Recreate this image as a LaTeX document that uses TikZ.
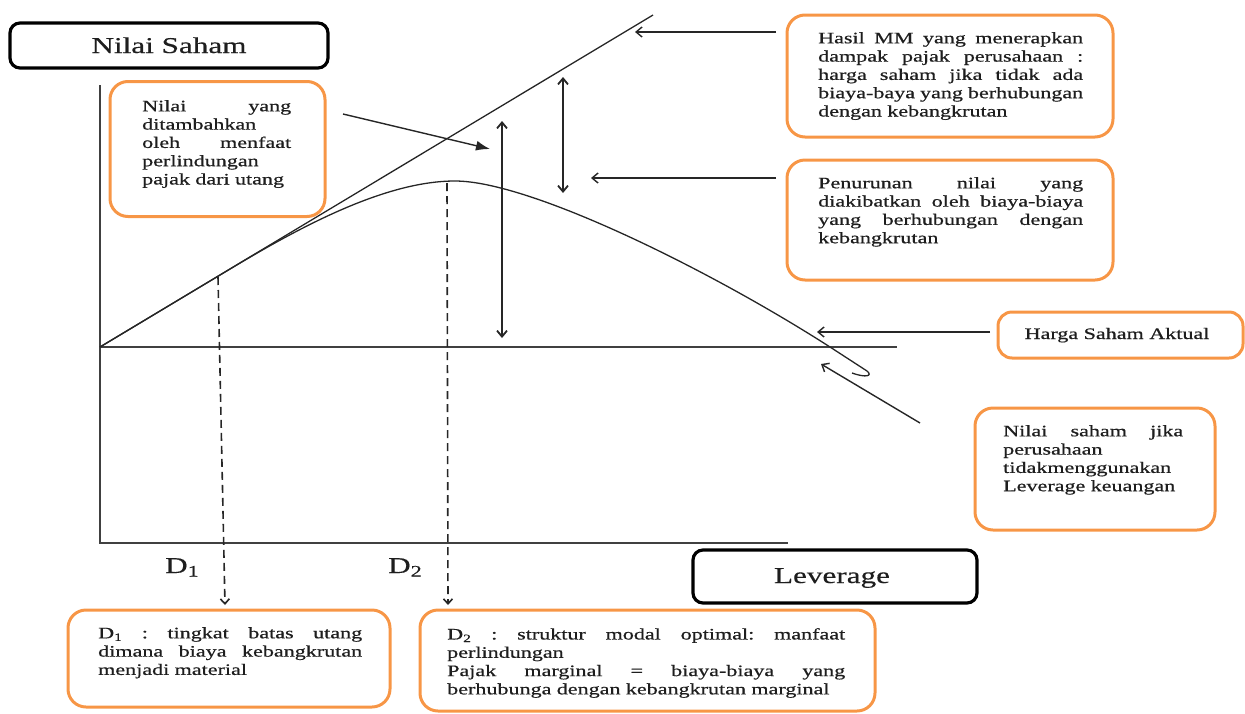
\documentclass[tikz,border=0pt]{standalone}
\usepackage{fontspec}
\setmainfont{Liberation Serif}
\newfontfamily\tnr[FakeStretch=1.38,FakeBold=0.6]{Liberation Serif}
\newfontfamily\tnrbig[FakeStretch=1.38,FakeBold=0.4]{Liberation Serif}
\usetikzlibrary{arrows.meta}
\newcommand{\jl}[2]{\leavevmode\hbox to #1{#2}}
\definecolor{boxorange}{HTML}{F79646}
\definecolor{ink}{HTML}{1E1E1E}
\tikzset{
  obox/.style={draw=boxorange, line width=3pt, rounded corners=18pt},
  kbox/.style={draw=black, line width=3.2pt, rounded corners=10pt},
  smalltext/.style={inner sep=0pt, anchor=north west, align=left, text=ink,
    font={\tnr\fontsize{16}{18.3}\selectfont\parindent=0pt}},
  bigtext/.style={inner sep=0pt, anchor=base, text=ink,
    font={\tnrbig\fontsize{22.6}{26}\selectfont}},
  axisline/.style={draw=black!75, line width=2pt},
  thinline/.style={draw=black!85, line width=1.3pt},
  barb/.style={-{Straight Barb[length=6pt,width=10pt]}, draw=black!85, line width=1.4pt},
  dbarb/.style={{Straight Barb[length=6pt,width=10pt]}-{Straight Barb[length=6pt,width=10pt]}, draw=black!85, line width=1.8pt},
  dasharrow/.style={-{Straight Barb[length=5pt,width=9pt]}, draw=black!85, line width=1.6pt, dash pattern=on 8pt off 5pt},
  fillarrow/.style={-{Latex[length=14pt,width=10pt]}, draw=black!85, line width=1.4pt}
}
\begin{document}
\begin{tikzpicture}[x=1pt,y=-1pt]
\useasboundingbox (0,0) rectangle (1245,713);

% axes
\coordinate (ytop) at (100,85);
\coordinate (origin) at (100,543);
\coordinate (xend) at (788,543);
\coordinate (h0) at (100,347);
\coordinate (hend) at (897,347);
\coordinate (ltop) at (653,15);
\draw[axisline] (ytop) -- (origin) -- (xend);
\draw[axisline, line width=1.8pt] (h0) -- (hend);
\draw[thinline] (h0) -- (ltop);

% curve
\coordinate (cend) at (867,371);
\draw[thinline] (h0) -- (230,269) .. controls (300,227) and (385,181) .. (455,181)
  .. controls (530,181) and (710,270) .. (830,347) -- (cend);
\draw[thinline] (cend) .. controls (873,376) and (866,378) .. (852,373);

% title boxes
\node[kbox, minimum width=318pt, minimum height=45pt] (tbox) at (169,45.5) {};
\node[bigtext] (ttext) at (169,53) {Nilai Saham};
\node[kbox, minimum width=284pt, minimum height=53pt] (lbox) at (835,576.5) {};
\node[bigtext] (ltext) at (832,583) {Leverage};

% D labels
\node[bigtext, anchor=base west] (d1) at (165,573) {D\raisebox{-3.5pt}{\fontsize{16}{16}\selectfont 1}};
\node[bigtext, anchor=base west] (d2) at (388,573) {D\raisebox{-3.5pt}{\fontsize{16}{16}\selectfont 2}};

% orange boxes
\node[obox, minimum width=215pt, minimum height=135pt] (b1) at (217.5,149) {};
\node[smalltext, text width=149pt] (t1) at (142,100) {\jl{149pt}{Nilai\hfill yang}\\ditambahkan\\\jl{149pt}{oleh\hfill menfaat}\\perlindungan\\pajak dari utang};

\node[obox, minimum width=326pt, minimum height=122pt] (b2) at (950,76) {};
\node[smalltext, text width=265pt] (t2) at (818,32) {\jl{265pt}{Hasil\hfill MM\hfill yang\hfill menerapkan}\\\jl{265pt}{dampak\hfill pajak\hfill perusahaan\hfill :}\\\jl{265pt}{harga\hfill saham\hfill jika\hfill tidak\hfill ada}\\\jl{265pt}{biaya-baya\hfill yang\hfill berhubungan}\\dengan kebangkrutan};

\node[obox, minimum width=326pt, minimum height=120pt] (b3) at (950,220) {};
\node[smalltext, text width=265pt] (t3) at (818,177) {\jl{265pt}{Penurunan\hfill nilai\hfill yang}\\\jl{265pt}{diakibatkan\hfill oleh\hfill biaya-biaya}\\\jl{265pt}{yang\hfill berhubungan\hfill dengan}\\kebangkrutan};

\node[obox, rounded corners=14pt, minimum width=245pt, minimum height=46pt] (b4) at (1120.5,335) {};
\node[smalltext, anchor=base] (t4) at (1117,339) {Harga Saham Aktual};

\node[obox, minimum width=240pt, minimum height=122pt] (b5) at (1095,469) {};
\node[smalltext, text width=180pt] (t5) at (1003,425) {\jl{180pt}{Nilai\hfill saham\hfill jika}\\perusahaan\\tidakmenggunakan\\Leverage keuangan};

\node[obox, minimum width=322pt, minimum height=97pt] (b6) at (229,658.5) {};
\node[smalltext, text width=264pt] (t6) at (98,627) {\jl{264pt}{D\textsubscript{1}\hfill :\hfill tingkat\hfill batas\hfill utang}\\\jl{264pt}{dimana\hfill biaya\hfill kebangkrutan}\\menjadi material};

\node[obox, minimum width=455pt, minimum height=101pt] (b7) at (647.5,660.5) {};
\node[smalltext, text width=398pt] (t7) at (447,628) {\jl{398pt}{D\textsubscript{2}\hfill :\hfill struktur\hfill modal\hfill optimal:\hfill manfaat}\\perlindungan\\\jl{398pt}{Pajak\hfill marginal\hfill =\hfill biaya-biaya\hfill yang}\\berhubunga dengan kebangkrutan marginal};

% dashed drop lines
\coordinate (d1top) at (218,277);
\coordinate (d1bot) at (225,605);
\coordinate (d2top) at (447,183);
\coordinate (d2bot) at (448,605);
\draw[dasharrow] (d1top) -- (d1bot);
\draw[dasharrow] (d2top) -- (d2bot);

% double arrows
\coordinate (v1a) at (502,121);
\coordinate (v1b) at (502,338);
\coordinate (v2a) at (563,77);
\coordinate (v2b) at (563,193);
\draw[dbarb] (v1a) -- (v1b);
\draw[dbarb] (v2a) -- (v2b);

% pointer arrows
\coordinate (p1s) at (343,114);
\coordinate (p1e) at (490,149);
\draw[fillarrow] (p1s) -- (p1e);
\coordinate (p2s) at (776,32);
\coordinate (p2e) at (635,32);
\draw[barb] (p2s) -- (p2e);
\coordinate (p3s) at (776,178);
\coordinate (p3e) at (591,178);
\draw[barb] (p3s) -- (p3e);
\coordinate (p4s) at (990,332);
\coordinate (p4e) at (817,332);
\draw[barb] (p4s) -- (p4e);
\coordinate (p5s) at (920,423);
\coordinate (p5e) at (821,364);
\draw[barb] (p5s) -- (p5e);
\end{tikzpicture}
\end{document}
